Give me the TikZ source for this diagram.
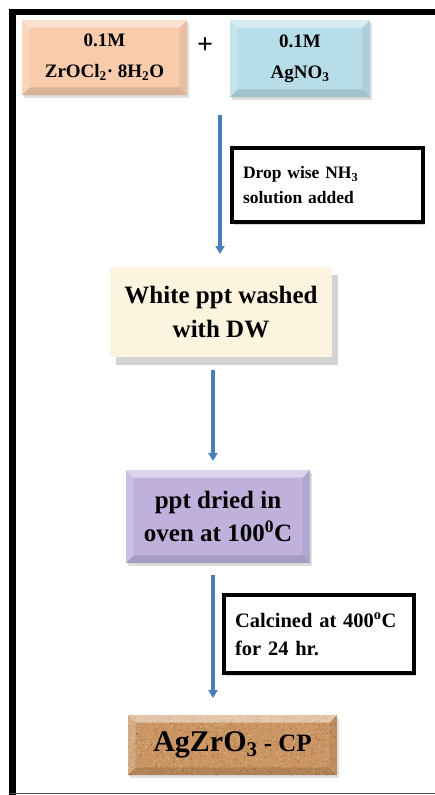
\documentclass[tikz,border=0pt]{standalone}
\usepackage{fontspec}
\setmainfont{Liberation Serif}
\usetikzlibrary{arrows.meta,shadows,calc}
\definecolor{zrpeach}{RGB}{248,203,173}
\definecolor{agblue}{RGB}{183,222,232}
\definecolor{washcream}{RGB}{252,244,222}
\definecolor{dryviolet}{RGB}{191,177,220}
\definecolor{cpbrown}{RGB}{204,150,100}
\definecolor{flowblue}{RGB}{74,126,187}
\begin{document}
\begin{tikzpicture}[x=1pt, y=-1pt, thick,
  stage/.style = {inner sep=0pt, align=center},
  remark/.style = {draw, line width=3.5pt, fill=white, inner xsep=11pt, inner ysep=0pt, align=left,
    drop shadow={shadow xshift=2pt, shadow yshift=-3pt, opacity=.3}},
  flow/.style = {-{Triangle[length=8pt,width=9pt]}, line width=3.6pt, flowblue},
  grain/.style = {path picture={
    \foreach \k in {1,...,700}
      \fill[brown!55!black, opacity=.3] ($(path picture bounding box.north west)+({209*rnd*1pt},{-60*rnd*1pt})$) circle (.8pt);
    \foreach \k in {1,...,400}
      \fill[white, opacity=.3] ($(path picture bounding box.north west)+({209*rnd*1pt},{-60*rnd*1pt})$) circle (.7pt);}}]
\useasboundingbox (0,0) rectangle (435,795);
\pgfmathsetseed{11}
% frame
\fill (9,9) rectangle (435,15);
\fill (9,9) rectangle (16,795);
\draw[line width=1pt, black!70] (9,793) -- (435,793);

% starting solutions
\node[stage, fill=zrpeach, minimum width=165pt, minimum height=75pt, font=\bfseries\fontsize{19}{31}\selectfont,
  drop shadow={shadow xshift=2pt, shadow yshift=-3pt, opacity=.25}] (zr) at (104.5,57.5)
  {0.1M\\ ZrOCl\textsubscript{2}· 8H\textsubscript{2}O};
\node[font=\bfseries\fontsize{28}{28}\selectfont] (plus) at (205,46) {+};
\node[stage, fill=agblue, minimum width=140pt, minimum height=77pt, font=\bfseries\fontsize{19}{31}\selectfont,
  drop shadow={shadow xshift=2pt, shadow yshift=-3pt, opacity=.25}] (ag) at (300,58.5)
  {0.1M\\ AgNO\textsubscript{3}};

% steps
\node[stage, fill=washcream, minimum width=222pt, minimum height=90pt, font=\bfseries\fontsize{25}{34}\selectfont,
  drop shadow={shadow xshift=6pt, shadow yshift=-8pt, opacity=.35}] (wash) at (221,312)
  {White ppt washed\\ with DW};
\node[stage, fill=dryviolet, minimum width=184pt, minimum height=93pt, font=\bfseries\fontsize{25}{33}\selectfont,
  drop shadow={shadow xshift=2pt, shadow yshift=-3pt, opacity=.25}] (dried) at (218,516.5)
  {ppt dried in\\ oven at 100\textsuperscript{0}C};
\node[stage, fill=cpbrown, grain, minimum width=209pt, minimum height=60pt, font=\bfseries\fontsize{30}{30}\selectfont,
  drop shadow={shadow xshift=2pt, shadow yshift=-3pt, opacity=.25}] (product) at (232.5,745)
  {AgZrO\textsubscript{3}{\fontsize{25}{25}\selectfont\ - CP}};

% bevel edges
\foreach \n in {zr,ag,dried,product}{
  \fill[white, opacity=.45] (\n.north west) -- (\n.north east) -- ([xshift=-8pt,yshift=-8pt]\n.north east) -- ([xshift=8pt,yshift=-8pt]\n.north west) -- cycle;
  \fill[white, opacity=.2] (\n.north west) -- ([xshift=8pt,yshift=-8pt]\n.north west) -- ([xshift=8pt,yshift=8pt]\n.south west) -- (\n.south west) -- cycle;
  \fill[black, opacity=.12] (\n.south west) -- (\n.south east) -- ([xshift=-8pt,yshift=8pt]\n.south east) -- ([xshift=8pt,yshift=8pt]\n.south west) -- cycle;
  \fill[black, opacity=.06] (\n.north east) -- ([xshift=-8pt,yshift=-8pt]\n.north east) -- ([xshift=-8pt,yshift=8pt]\n.south east) -- (\n.south east) -- cycle;
}

% conditions
\node[remark, text width=169pt, minimum height=74pt, font=\bfseries\fontsize{17.5}{25}\selectfont] (nh3) at (327.5,185)
  {Drop wise NH\textsubscript{3}\\ solution added};
\node[remark, text width=168pt, minimum height=78pt, font=\bfseries\fontsize{20.5}{28}\selectfont] (calc) at (319,634)
  {Calcined at 400\textsuperscript{o}C\\ for 24 hr.};

% arrows
\coordinate (a1s) at (220,115);
\coordinate (a1e) at (220,254);
\coordinate (a2s) at (213,370);
\coordinate (a2e) at (213,461);
\coordinate (a3s) at (213,575);
\coordinate (a3e) at (213,698);
\draw[flow] (a1s) -- (a1e);
\draw[flow] (a2s) -- (a2e);
\draw[flow] (a3s) -- (a3e);
\end{tikzpicture}
\end{document}
